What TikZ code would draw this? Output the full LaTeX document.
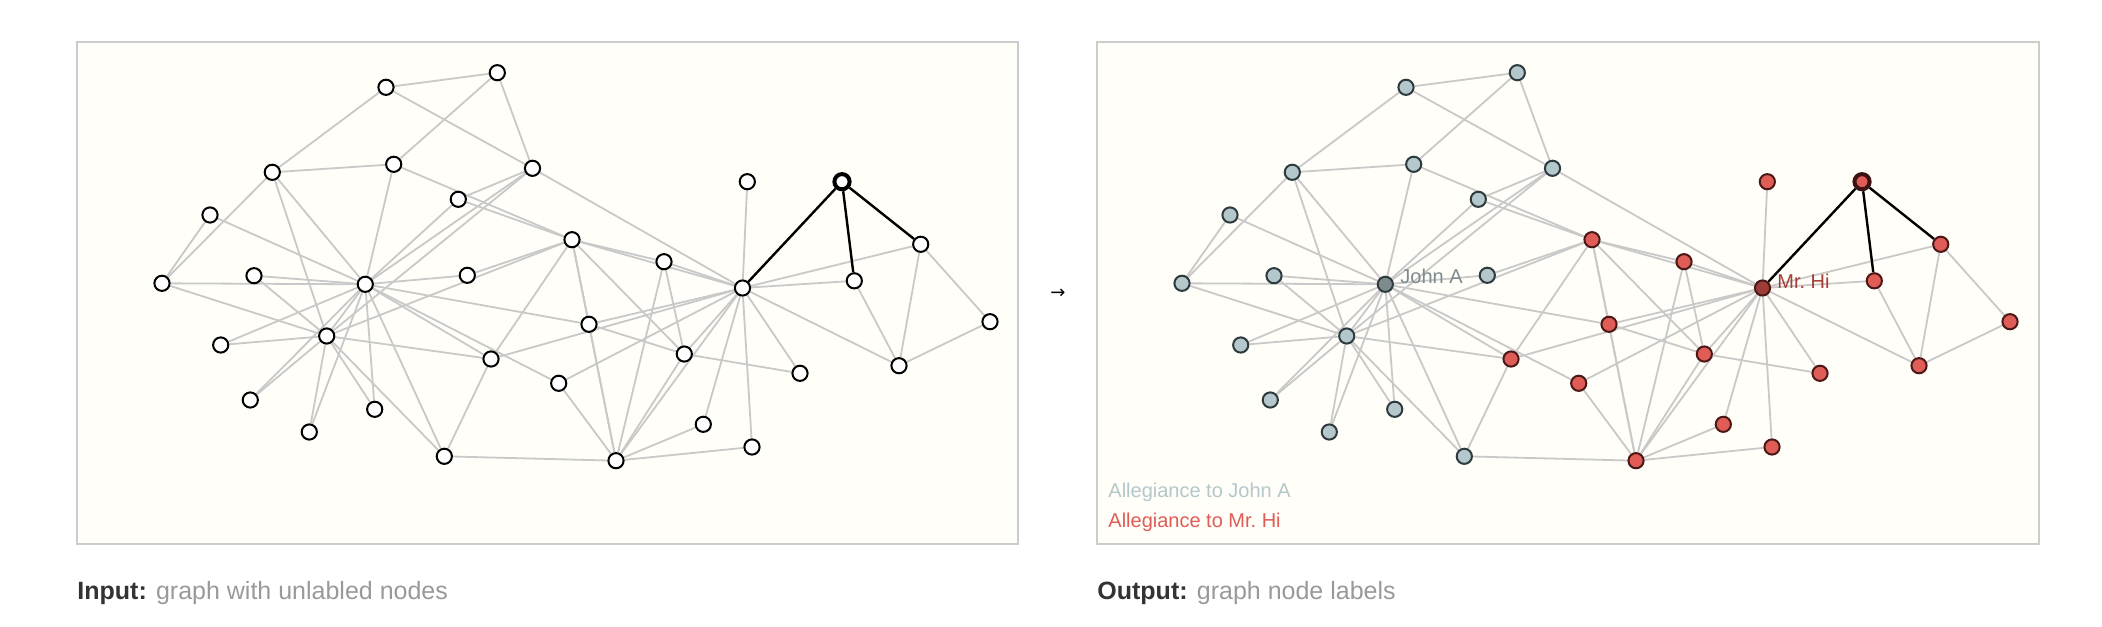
\documentclass[tikz,border=0pt]{standalone}
\usepackage{fontspec}
\setmainfont{Liberation Sans}
\newfontfamily\arrowfont{DejaVu Sans}
\definecolor{panelbg}{HTML}{FFFEF8}
\definecolor{panelline}{HTML}{CCCCCC}
\definecolor{edgegray}{HTML}{C9C9C9}
\definecolor{bluefill}{HTML}{B4C7CA}
\definecolor{bluestroke}{HTML}{2E3B3E}
\definecolor{jafill}{HTML}{7D8A8E}
\definecolor{redfill}{HTML}{E05C57}
\definecolor{redstroke}{HTML}{4A1816}
\definecolor{hifill}{HTML}{9C3D37}
\definecolor{hitext}{HTML}{A33D38}
\definecolor{capdark}{HTML}{333333}
\definecolor{capgray}{HTML}{999999}
\pgfdeclarelayer{bg}
\pgfdeclarelayer{edgelayer}
\pgfsetlayers{bg,edgelayer,main}
\tikzset{
  panel/.style={draw=panelline, line width=1pt, fill=panelbg},
  edge/.style={draw=edgegray, line width=0.9pt},
  hedge/.style={draw=black, line width=1.2pt},
  dot/.style={circle, minimum size=7.6pt, inner sep=0pt, line width=1pt},
  inode/.style={dot, draw=black, fill=white},
  isel/.style={dot, draw=black, fill=white, line width=2pt},
  bnode/.style={dot, draw=bluestroke, fill=bluefill},
  janode/.style={dot, draw=bluestroke, fill=jafill},
  rnode/.style={dot, draw=redstroke, fill=redfill},
  hinode/.style={dot, draw=redstroke, fill=hifill},
  rsel/.style={dot, draw=redstroke!80!black, fill=redfill, line width=2pt},
  caption/.style={anchor=base west, inner sep=0pt, font=\fontsize{12.5}{15}\selectfont},
  legend/.style={anchor=base west, inner sep=0pt, font=\fontsize{10}{12}\selectfont}
}
\begin{document}
\begin{tikzpicture}[x=0.5pt, y=-0.5pt]
\useasboundingbox (0,0) rectangle (2102,626);
\begin{pgfonlayer}{bg}
  \path[panel] (77,42) rectangle (1018,544);
  \path[panel] (1097,42) rectangle (2039,544);
\end{pgfonlayer}
% nodes: number / x / y / left style / right style
\foreach \i/\x/\y/\ls/\rs in {
  1/742.5/288/inode/hinode, 2/616/460.7/inode/rnode, 3/572/239.7/inode/rnode,
  4/684.3/354/inode/rnode, 5/842/181.7/isel/rsel, 6/899/365.7/inode/rnode,
  7/920.7/244.3/inode/rnode, 8/664/261.7/inode/rnode, 9/491/359/inode/rnode,
  10/467.3/275.3/inode/bnode, 11/854.3/280.8/inode/rnode, 12/747.3/181.7/inode/rnode,
  13/800/373.3/inode/rnode, 14/589/324.3/inode/rnode, 15/254/275.7/inode/bnode,
  16/220.7/345/inode/bnode, 17/990/321.7/inode/rnode, 18/703.3/424.3/inode/rnode,
  19/250.3/400/inode/bnode, 20/558.7/383.3/inode/rnode, 21/374.7/409.3/inode/bnode,
  22/752/447/inode/rnode, 23/309.3/432/inode/bnode, 24/272.3/172.3/inode/bnode,
  25/497.3/72.7/inode/bnode, 26/386/87.3/inode/bnode, 27/210/215/inode/bnode,
  28/393.7/164.3/inode/bnode, 29/458.3/199.3/inode/bnode, 30/162/283.3/inode/bnode,
  31/444.3/456.3/inode/bnode, 32/532.5/168.3/inode/bnode, 33/326.7/336/inode/bnode,
  34/365.3/284.3/inode/janode}
{
  \node[\ls] (a\i) at (\x,\y) {};
  \node[\rs] (b\i) at (\x+1020,\y) {};
}
\begin{pgfonlayer}{edgelayer}
\foreach \u/\v in {
  1/2,1/3,1/4,1/6,1/7,1/8,1/9,1/11,1/12,1/13,1/14,1/18,1/20,1/22,1/32,
  2/3,2/4,2/8,2/14,2/18,2/20,2/22,2/31,
  3/4,3/8,3/9,3/10,3/14,3/28,3/29,3/33,
  4/8,4/13,4/14,
  6/7,6/11,6/17,7/17,
  9/31,9/33,9/34,10/34,14/34,
  15/33,15/34,16/33,16/34,19/33,19/34,20/34,21/33,21/34,23/33,23/34,
  24/26,24/28,24/30,24/33,24/34,
  25/26,25/28,25/32,26/32,27/30,27/34,28/34,29/32,29/34,
  30/33,30/34,31/33,31/34,32/33,32/34,33/34}
{
  \draw[edge] (a\u) -- (a\v);
  \draw[edge] (b\u) -- (b\v);
}
\foreach \u/\v in {1/5,5/7,5/11}
{
  \draw[hedge] (a\u) -- (a\v);
  \draw[hedge] (b\u) -- (b\v);
}
\end{pgfonlayer}
% labels
\node[legend, text=jafill] (lja) at (1400,283) {John A};
\node[legend, text=hitext] (lhi) at (1777,288) {Mr.\ Hi};
\node[legend, text=bluefill] (leg1) at (1108,497) {Allegiance to John A};
\node[legend, text=redfill] (leg2) at (1108,527) {Allegiance to Mr.\ Hi};
\node[inner sep=0pt, font=\arrowfont\fontsize{9}{11}\selectfont] (arr) at (1058,294) {→};
\node[caption] (cin) at (77,599) {\textcolor{capdark}{\bfseries Input:} \textcolor{capgray}{graph with unlabled nodes}};
\node[caption] (cout) at (1097,599) {\textcolor{capdark}{\bfseries Output:} \textcolor{capgray}{graph node labels}};
\end{tikzpicture}
\end{document}
